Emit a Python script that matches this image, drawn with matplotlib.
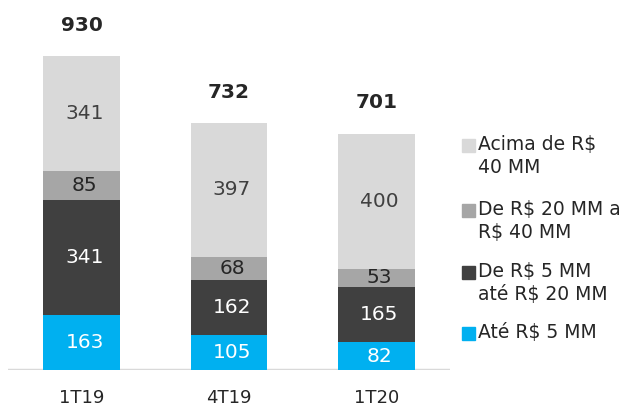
import numpy as np
import matplotlib.pyplot as plt
from matplotlib.patches import Rectangle

plt.rcParams['font.family'] = ['DejaVu Sans']

# dados
periodos = ['1T19', '4T19', '1T20']
ate_5 = [163, 105, 82]
de_5_a_20 = [341, 162, 165]
de_20_a_40 = [85, 68, 53]
acima_40 = [341, 397, 400]
totais = [930, 732, 701]

series = [ate_5, de_5_a_20, de_20_a_40, acima_40]
nomes = ['Até R$ 5 MM', 'De R$ 5 MM\naté R$ 20 MM', 'De R$ 20 MM a\nR$ 40 MM', 'Acima de R$\n40 MM']
cores = ['#00b0f0', '#404040', '#a6a6a6', '#d9d9d9']
cores_txt = ['white', 'white', '#262626', '#404040']

W, H = 623, 409
fig = plt.figure(figsize=(W / 100, H / 100), dpi=100, facecolor='w')
ax = fig.add_axes([8 / W, (H - 370) / H, (450 - 8) / W, 370 / H])

x = np.arange(len(periodos))
base = np.zeros(len(periodos))
for vals, cor, ct in zip(series, cores, cores_txt):
    vals = np.array(vals)
    ax.bar(x, vals, width=0.52, bottom=base, color=cor, linewidth=0, zorder=2)
    for xi, b, v in zip(x, base, vals):
        ax.text(xi + 0.02, b + v / 2, str(v), ha='center', va='center',
                fontsize=14.5, color=ct, zorder=3)
    base = base + vals

for xi, t in zip(x, totais):
    ax.text(xi, t + 90, str(t), ha='center', va='center', fontsize=14.5,
            fontweight='bold', color='#262626')

ax.set_xlim(-0.5, 2.5)
ax.set_ylim(0, 1096)
ax.axhline(0, color='#d9d9d9', linewidth=2.5, zorder=1)
for s in ax.spines.values():
    s.set_visible(False)
ax.set_yticks([])
ax.set_xticks(x)
ax.set_xticklabels(periodos, fontsize=13, color='#262626')
ax.tick_params(axis='x', length=0, pad=14)

# legenda
leg_y = [145, 210, 272, 333]
for nome, cor, y in zip(nomes[::-1], cores[::-1], leg_y):
    fig.patches.append(Rectangle((462 / W, (H - y - 7) / H), 13 / W, 13 / H,
                                 transform=fig.transFigure, color=cor))
    fig.text(478 / W, (H - y + 10) / H, nome, fontsize=13.5, color='#262626',
             va='top', ha='left', linespacing=1.25,
             transform=fig.transFigure)

plt.savefig('out.png', dpi=100, facecolor='w')
